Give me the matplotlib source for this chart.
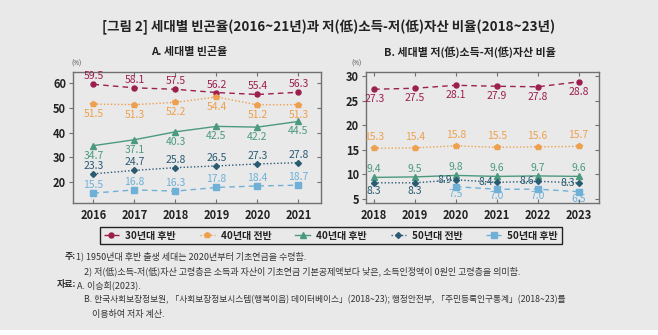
import numpy as np
import matplotlib
matplotlib.use('Agg')
import matplotlib.pyplot as plt
from matplotlib.patches import Rectangle

plt.rcParams['font.family'] = ['Noto Sans CJK KR', 'DejaVu Sans']

# data
years_a = [2016, 2017, 2018, 2019, 2020, 2021]
years_b = [2018, 2019, 2020, 2021, 2022, 2023]
series_names = ['30년대 후반', '40년대 전반', '40년대 후반', '50년대 전반', '50년대 후반']

poverty_a = {
    '30년대 후반': [59.5, 58.1, 57.5, 56.2, 55.4, 56.3],
    '40년대 전반': [51.5, 51.3, 52.2, 54.4, 51.2, 51.3],
    '40년대 후반': [34.7, 37.1, 40.3, 42.5, 42.2, 44.5],
    '50년대 전반': [23.3, 24.7, 25.8, 26.5, 27.3, 27.8],
    '50년대 후반': [15.5, 16.8, 16.3, 17.8, 18.4, 18.7],
}
lowinc_b = {
    '30년대 후반': [27.3, 27.5, 28.1, 27.9, 27.8, 28.8],
    '40년대 전반': [15.3, 15.4, 15.8, 15.5, 15.6, 15.7],
    '40년대 후반': [9.4, 9.5, 9.8, 9.6, 9.7, 9.6],
    '50년대 전반': [8.3, 8.3, 8.9, 8.4, 8.6, 8.3],
    '50년대 후반': [np.nan, np.nan, 7.5, 7.0, 7.0, 6.5],
}

styles = {
    '30년대 후반': dict(color='#9c1f4d', marker='o', ls=(0, (4, 3)), ms=3.6),
    '40년대 전반': dict(color='#eda04e', marker='p', ls=(0, (1, 1.5)), ms=4),
    '40년대 후반': dict(color='#4b9a7e', marker='^', ls='-', ms=3.8),
    '50년대 전반': dict(color='#2a5b72', marker='D', ls=(0, (1, 1.5)), ms=3),
    '50년대 후반': dict(color='#6fb0d6', marker='s', ls=(0, (4, 3)), ms=4),
}

# label offsets in pixels (dx, dy)
ABOVE = (0, 8)
BELOW = (0, -10)
LEFT = (-11, 0)
offs_a = {
    '30년대 후반': [ABOVE] * 6,
    '40년대 전반': [BELOW] * 6,
    '40년대 후반': [BELOW] * 6,
    '50년대 전반': [ABOVE] * 6,
    '50년대 후반': [ABOVE] * 6,
}
offs_b = {
    '30년대 후반': [BELOW] * 6,
    '40년대 전반': [(0, 11)] * 6,
    '40년대 후반': [ABOVE] * 6,
    '50년대 전반': [(0, -8), (0, -8), LEFT, LEFT, LEFT, LEFT],
    '50년대 후반': [(0, -7)] * 6,
}

bg = '#e9e9ea'
fig = plt.figure(figsize=(6.58, 3.35), dpi=100, facecolor=bg)
fig.patches.append(Rectangle((0, 0), 1, 5 / 335, transform=fig.transFigure,
                             facecolor='white', edgecolor='none'))

W, H = 658, 335
def px_axes(x0, y0, x1, y1):
    return fig.add_axes([x0 / W, 1 - y1 / H, (x1 - x0) / W, (y1 - y0) / H])

ax_a = px_axes(73, 72, 321, 203)
ax_b = px_axes(366, 72, 599, 203)

def draw(ax, years, data, offs):
    handles = []
    for name in series_names:
        st = styles[name]
        vals = np.array(data[name], dtype=float)
        h, = ax.plot(years, vals, color=st['color'], ls=st['ls'], lw=1,
                     marker=st['marker'], ms=st['ms'], label=name)
        handles.append(h)
        for x, v, o in zip(years, vals, offs[name]):
            if np.isnan(v):
                continue
            ax.annotate(f'{v:.1f}', (x, v), xytext=o, textcoords='offset pixels',
                        ha='center', va='center', fontsize=7.5,
                        color=st['color'])
    ax.set_facecolor(bg)
    for s in ax.spines.values():
        s.set_color('#707070')
        s.set_linewidth(1)
    ax.set_xticks(years)
    ax.tick_params(axis='x', direction='in', top=True, length=3, color='#707070',
                   labelsize=8, pad=4)
    ax.tick_params(axis='y', direction='out', length=3, color='#707070',
                   labelsize=8, pad=2)
    ax.tick_params(axis='y', which='both', right=True)
    for lab in ax.get_xticklabels() + ax.get_yticklabels():
        lab.set_fontweight('bold')
        lab.set_color('#222222')
    return handles

handles = draw(ax_a, years_a, poverty_a, offs_a)
ax_a.set_xlim(2015.5, 2021.55)
ax_a.set_ylim(11.5, 64.5)
ax_a.set_yticks([20, 30, 40, 50, 60])
for lab in ax_a.get_yticklabels():
    lab.set_fontweight('bold')

draw(ax_b, years_b, lowinc_b, offs_b)
ax_b.set_xlim(2017.8, 2023.5)
ax_b.set_ylim(4.2, 30.8)
ax_b.set_yticks([5, 10, 15, 20, 25, 30])
for lab in ax_b.get_yticklabels():
    lab.set_fontweight('bold')

for ax in (ax_a, ax_b):
    # right ticks point inward
    ax.yaxis.set_tick_params(which='both', right=True)
    for t in ax.yaxis.get_major_ticks():
        t.tick2line.set_marker(matplotlib.lines.TICKLEFT)

fig.text(0.5, 1 - 27 / H, '[그림 2] 세대별 빈곤율(2016~21년)과 저(低)소득-저(低)자산 비율(2018~23년)',
         ha='center', va='center', fontsize=9.7, fontweight='bold', color='#222222')
fig.text(189 / W, 1 - 52 / H, 'A. 세대별 빈곤율', ha='center', va='center',
         fontsize=7.9, fontweight='bold', color='#222222')
fig.text(470 / W, 1 - 52 / H, 'B. 세대별 저(低)소득-저(低)자산 비율', ha='center', va='center',
         fontsize=7.9, fontweight='bold', color='#222222')
fig.text(77 / W, 1 - 64 / H, '(%)', ha='center', va='center', fontsize=4.5, color='#444444')
fig.text(357 / W, 1 - 64 / H, '(%)', ha='center', va='center', fontsize=4.5, color='#444444')

leg = fig.legend(handles=handles, loc='center', bbox_to_anchor=(331 / W, 1 - 235.5 / H),
                 ncol=5, frameon=True, fancybox=False, edgecolor='#222222',
                 facecolor=bg, framealpha=1, fontsize=7.2, handlelength=1.5,
                 columnspacing=2.4, handletextpad=0.6, borderpad=0.35)
leg.get_frame().set_linewidth(1)
for t in leg.get_texts():
    t.set_fontweight('bold')
    t.set_color('#222222')

nc = '#333333'
fs = 6.5
fig.text(65 / W, 1 - 256 / H, '주:', ha='left', va='center', fontsize=fs, fontweight='bold', color=nc)
fig.text(76 / W, 1 - 256 / H, '1) 1950년대 후반 출생 세대는 2020년부터 기초연금을 수령함.',
         ha='left', va='center', fontsize=fs, color=nc)
fig.text(84 / W, 1 - 271 / H, '2) 저(低)소득-저(低)자산 고령층은 소득과 자산이 기초연금 기본공제액보다 낮은, 소득인정액이 0원인 고령층을 의미함.',
         ha='left', va='center', fontsize=fs, color=nc)
fig.text(57 / W, 1 - 285 / H, '자료:', ha='left', va='center', fontsize=fs, fontweight='bold', color=nc)
fig.text(77 / W, 1 - 285 / H, 'A. 이승희(2023).', ha='left', va='center', fontsize=fs, color=nc)
fig.text(84 / W, 1 - 300 / H, 'B. 한국사회보장정보원, 「사회보장정보시스템(행복이음) 데이터베이스」(2018~23); 행정안전부, 「주민등록인구통계」(2018~23)를',
         ha='left', va='center', fontsize=6.3, color=nc)
fig.text(92 / W, 1 - 314 / H, '이용하여 저자 계산.', ha='left', va='center', fontsize=fs, color=nc)

fig.savefig('out.png', dpi=100, facecolor=bg)
